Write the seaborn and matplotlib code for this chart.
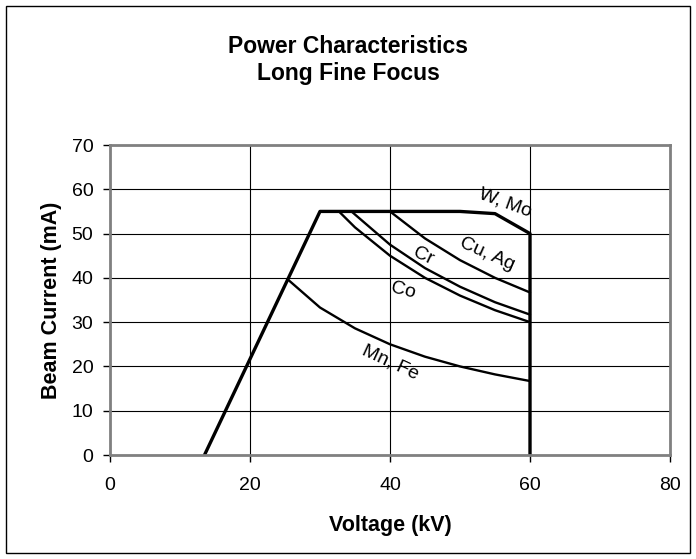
import pandas as pd
import numpy as np
import matplotlib
matplotlib.use("Agg")
import matplotlib.pyplot as plt
import seaborn as sns
from matplotlib.patches import Rectangle

# data (kV, mA)
envelope_kv = [13.5, 30, 50, 55, 60, 60]
envelope_ma = [0, 55, 55, 54.5, 50, 0]

cuag_kv = [40, 45, 50, 55, 60]
cuag_ma = [55, 48.9, 44, 40, 36.7]

cr_kv = [34.5, 35, 40, 45, 50, 55, 60]
cr_ma = [55, 54.3, 47.5, 42.2, 38, 34.5, 31.7]

co_kv = [32.7, 35, 40, 45, 50, 55, 60]
co_ma = [55, 51.4, 45, 40, 36, 32.7, 30]

mnfe_kv = [25.5, 30, 35, 40, 45, 50, 55, 60]
mnfe_ma = [39.5, 33.3, 28.6, 25, 22.2, 20, 18.2, 16.7]

labels = ["W, Mo", "Cu, Ag", "Cr", "Co", "Mn, Fe"]
label_pos = [(56.4, 57.0), (53.9, 45.4), (44.8, 44.8), (41.9, 37.2), (40.0, 20.8)]
label_rot = [-20, -24, -25, -14, -25]

sns.set_style("white")
plt.rcParams['font.family'] = ['Liberation Sans', 'DejaVu Sans']
plt.rcParams['text.color'] = 'black'
plt.rcParams['axes.labelcolor'] = 'black'
plt.rcParams['xtick.color'] = 'black'
plt.rcParams['ytick.color'] = 'black'

fig = plt.figure(figsize=(6.96, 5.59), dpi=100)
ax = fig.add_axes([110/696, 1 - 455/559, 560/696, 310/559])

thin = [(cuag_kv, cuag_ma), (cr_kv, cr_ma), (co_kv, co_ma), (mnfe_kv, mnfe_ma)]
for xs, ys in thin:
    df = pd.DataFrame({'kv': xs, 'ma': ys})
    sns.lineplot(data=df, x='kv', y='ma', sort=False, estimator=None,
                 color='black', linewidth=1.7, ax=ax)

env = pd.DataFrame({'kv': envelope_kv, 'ma': envelope_ma})
sns.lineplot(data=env, x='kv', y='ma', sort=False, estimator=None,
             color='black', linewidth=2.4, ax=ax)

for lab, (px, py), rot in zip(labels, label_pos, label_rot):
    ax.text(px, py, lab, rotation=rot, ha='center', va='center', fontsize=14,
            rotation_mode='anchor')

ax.set_xlim(0, 80)
ax.set_ylim(0, 70)
ax.set_xticks(np.arange(0, 81, 20))
ax.set_yticks(np.arange(0, 71, 10))
ax.grid(True, color='black', linewidth=0.8)
ax.set_axisbelow(True)
for s in ax.spines.values():
    s.set_color('#808080')
    s.set_linewidth(2)
ax.tick_params(axis='both', direction='out', length=5, width=1, color='black',
               labelsize=14, left=True, bottom=True)
ax.tick_params(axis='y', pad=7)
ax.tick_params(axis='x', pad=11)
ax.set_xlabel('Voltage (kV)', fontsize=15.5, fontweight='bold', labelpad=15)
ax.set_ylabel('Beam Current (mA)', fontsize=15.5, fontweight='bold', labelpad=7)

fig.text(0.5, 1 - 60/559, 'Power Characteristics\nLong Fine Focus', ha='center',
         va='center', fontsize=16.5, fontweight='bold', linespacing=1.25)

fig.patches.append(Rectangle((6/696, 6/559), 684/696, 547/559, transform=fig.transFigure,
                             fill=False, edgecolor='black', linewidth=1))

fig.savefig('out.png', dpi=100)
